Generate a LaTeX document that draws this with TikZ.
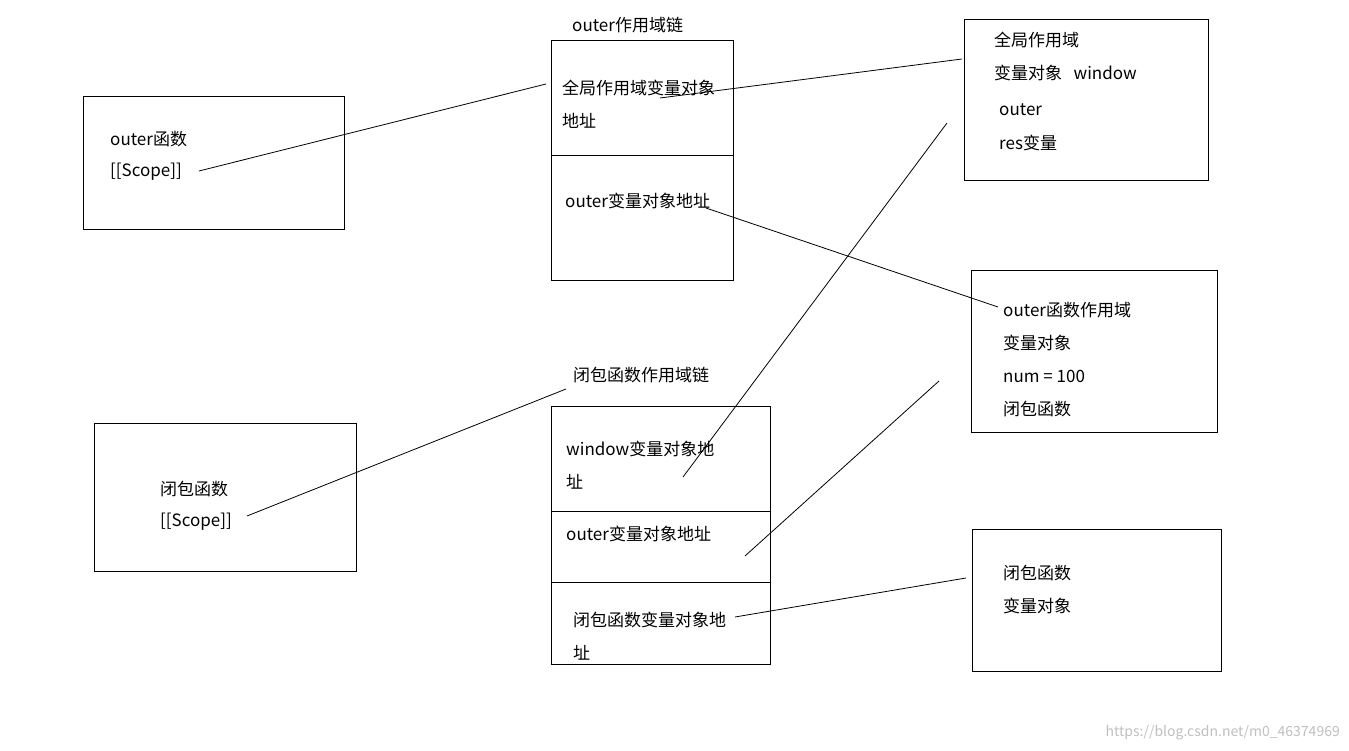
\documentclass[tikz,border=0pt]{standalone}
\usepackage{fontspec}
\setmainfont{Noto Sans CJK SC}
\begin{document}
\begin{tikzpicture}[x=1pt,y=-1pt,
  box/.style={draw,line width=1pt},
  lbl/.style={anchor=west,inner sep=0pt,font=\fontsize{17}{17}\selectfont},
  ln/.style={line width=0.8pt}]
\useasboundingbox (0,0) rectangle (1349,751);
% boxes
\draw[box] (83,97) rectangle (344,230);
\draw[box] (551,41) rectangle (733,281); \draw[box] (551,156) -- (733,156);
\draw[box] (964,20) rectangle (1208,181);
\draw[box] (971,271) rectangle (1217,432);
\draw[box] (94,423) rectangle (356,571);
\draw[box] (551,406) rectangle (770,664); \draw[box] (551,511) -- (770,511); \draw[box] (551,582) -- (770,582);
\draw[box] (972,529) rectangle (1221,671);
% texts
\node[lbl] (t1) at (110,139) {outer函数};
\node[lbl] (t2) at (110,172) {[[Scope]]};
\node[lbl] (t3) at (572,25) {outer作用域链};
\node[lbl] (t4) at (562,88) {全局作用域变量对象};
\node[lbl] (t5) at (562,121) {地址};
\node[lbl] (t6) at (565,201) {outer变量对象地址};
\node[lbl] (g1) at (994,40) {全局作用域};
\node[lbl] (g2) at (994,73) {变量对象\ \ \ window};
\node[lbl] (g3) at (999,110) {outer};
\node[lbl] (g4) at (999,143) {res变量};
\node[lbl] (o1) at (1003,310) {outer函数作用域};
\node[lbl] (o2) at (1003,343) {变量对象};
\node[lbl] (o3) at (1003,376) {num = 100};
\node[lbl] (o4) at (1003,409) {闭包函数};
\node[lbl] (c1) at (160,489) {闭包函数};
\node[lbl] (c2) at (160,522) {[[Scope]]};
\node[lbl] (s0) at (573,375) {闭包函数作用域链};
\node[lbl] (s1) at (566,449) {window变量对象地};
\node[lbl] (s2) at (566,482) {址};
\node[lbl] (s3) at (566,534) {outer变量对象地址};
\node[lbl] (s4) at (573,620) {闭包函数变量对象地};
\node[lbl] (s5) at (573,653) {址};
\node[lbl] (v1) at (1003,573) {闭包函数};
\node[lbl] (v2) at (1003,606) {变量对象};
\node[anchor=east,inner sep=0pt,text=black!25,font=\fontsize{14}{14}\selectfont] (wm) at (1340,733) {https://blog.csdn.net/m0\_46374969};
% connector endpoints
\coordinate (a1) at (199,171); \coordinate (a2) at (546,84);
\coordinate (b1) at (660,98); \coordinate (b2) at (962,59);
\coordinate (d1) at (706,208); \coordinate (d2) at (998,307);
\coordinate (e1) at (683,477); \coordinate (e2) at (947,123);
\coordinate (f1) at (745,556); \coordinate (f2) at (939,381);
\coordinate (h1) at (735,617); \coordinate (h2) at (966,578);
\coordinate (k1) at (247,516); \coordinate (k2) at (566,389);
\draw[ln] (a1) -- (a2);
\draw[ln] (b1) -- (b2);
\draw[ln] (d1) -- (d2);
\draw[ln] (e1) -- (e2);
\draw[ln] (f1) -- (f2);
\draw[ln] (h1) -- (h2);
\draw[ln] (k1) -- (k2);
\end{tikzpicture}
\end{document}
